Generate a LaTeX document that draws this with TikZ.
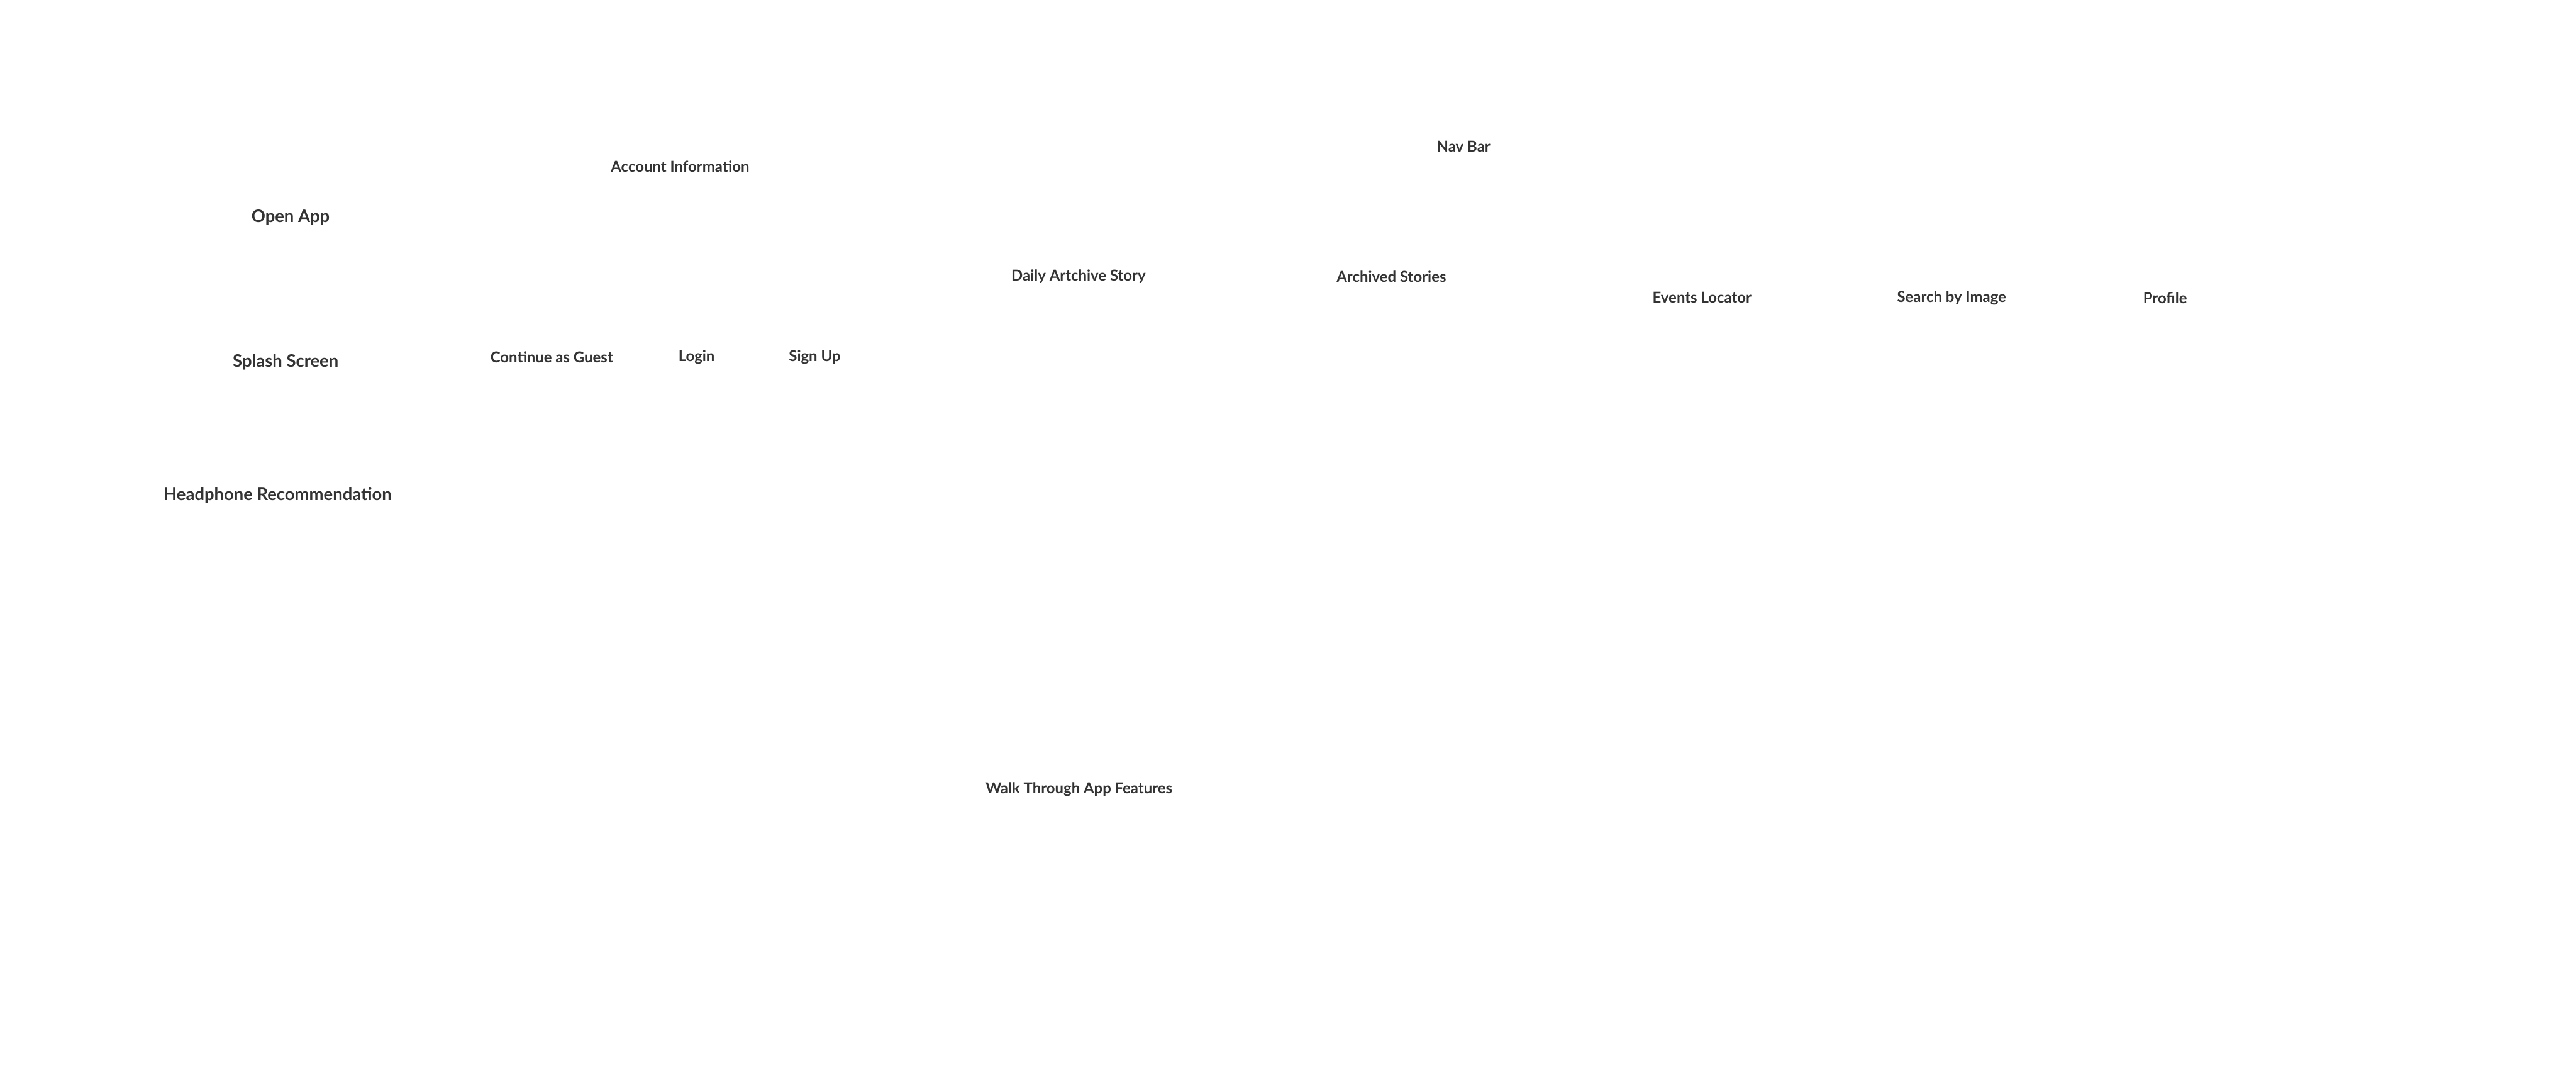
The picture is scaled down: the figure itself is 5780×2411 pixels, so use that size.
\documentclass[tikz,border=0pt]{standalone}
\usepackage{fontspec}
\setmainfont{Lato}
\usepackage{xcolor}
\usepackage{tikz}
\definecolor{labelgray}{HTML}{333333}

\begin{document}
\begin{tikzpicture}[x=0.01cm,y=-0.01cm,
    label/.style={text=labelgray,font=\bfseries\fontsize{9.6}{11}\selectfont,inner sep=0pt},
    biglabel/.style={text=labelgray,font=\bfseries\fontsize{11}{13}\selectfont,inner sep=0pt}]
  \useasboundingbox[fill=white] (0,0) rectangle (5780,2411);
  % left column
  \node[biglabel] (openapp) at (652,488) {Open App};
  \node[biglabel] (splash) at (641,812) {Splash Screen};
  \node[biglabel] (headphone) at (623,1111) {Headphone Recommendation};
  % account
  \node[label] (accinfo) at (1526,373) {Account Information};
  \node[label] (guest) at (1238,801) {Continue as Guest};
  \node[label] (login) at (1563,801) {Login};
  \node[label] (signup) at (1828,801) {Sign Up};
  % nav bar
  \node[label] (navbar) at (3284,329) {Nav Bar};
  \node[label] (daily) at (2420,620) {Daily Artchive Story};
  \node[label] (archived) at (3122,620) {Archived Stories};
  \node[label] (events) at (3819,668) {Events Locator};
  \node[label] (search) at (4379,668) {Search by Image};
  \node[label] (profile) at (4858,668) {Profile};
  \node[label] (walk) at (2421,1770) {Walk Through App Features};
\end{tikzpicture}
\end{document}
